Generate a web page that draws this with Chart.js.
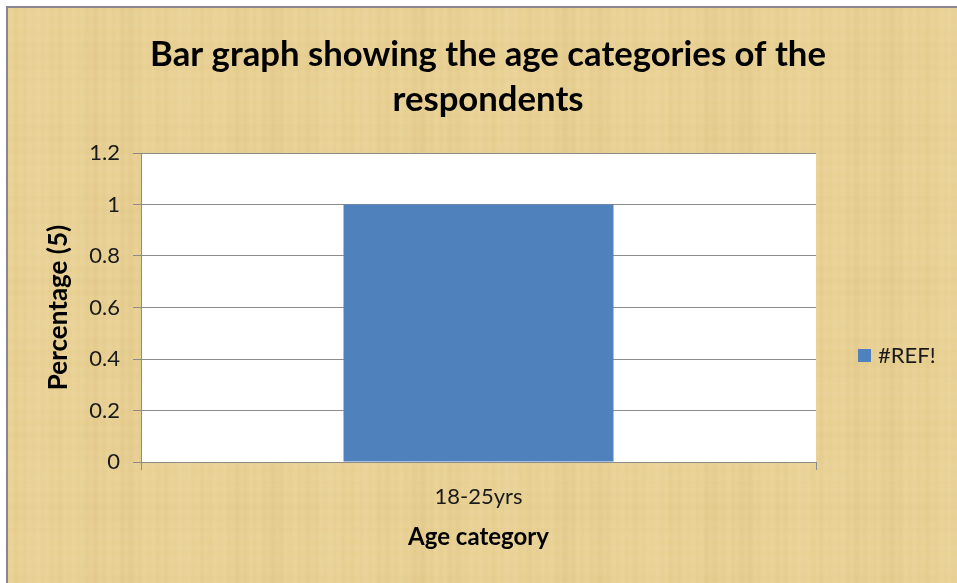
<!DOCTYPE html>
<html><head><meta charset="utf-8">
<script src="https://cdn.jsdelivr.net/npm/chart.js@4"></script>
<style>html,body{margin:0;padding:0;background:#fff;overflow:hidden}#wrap{width:957px;height:583px;position:relative}</style>
</head><body><div id="wrap"><canvas id="c" width="957" height="583"></canvas></div>
<script>
const categories = ["18-25yrs"];
const seriesName = "#REF!";
const values = [1];
const yTicks = [0, 0.2, 0.4, 0.6, 0.8, 1, 1.2];
const titleLines = ["Bar graph showing the age categories of the", "respondents"];
const xTitle = "Age category";
const yTitle = "Percentage (5)";

const FONT = "Lato, 'Open Sans', sans-serif";
const BAR = "#4F81BD";
const GRID = "#8c8c8c";

const backdrop = {
  id: 'backdrop',
  beforeDraw(chart) {
    const ctx = chart.ctx, W = chart.width, H = chart.height;
    ctx.save();
    ctx.fillStyle = '#ffffff';
    ctx.fillRect(0, 0, W, H);
    ctx.fillStyle = '#E9D195';
    ctx.fillRect(8, 8, W - 8, H - 8);
    // parchment fibres (deterministic pattern)
    for (let x = 8; x < W; x += 1) {
      const a = Math.sin(x * 0.71) * 0.35 + Math.sin(x * 0.173 + 1.3) * 0.35 + Math.sin(x * 0.041) * 0.3;
      ctx.fillStyle = a > 0 ? 'rgba(255,246,215,' + (a * 0.10).toFixed(3) + ')' : 'rgba(175,135,65,' + (-a * 0.08).toFixed(3) + ')';
      ctx.fillRect(x, 8, 1, H - 8);
    }
    for (let y = 8; y < H; y += 2) {
      const a = Math.sin(y * 0.53 + 0.7) * 0.5 + Math.sin(y * 0.083) * 0.4;
      ctx.fillStyle = a > 0 ? 'rgba(255,248,220,' + (a * 0.04).toFixed(3) + ')' : 'rgba(175,135,60,' + (-a * 0.035).toFixed(3) + ')';
      ctx.fillRect(8, y, W - 8, 2);
    }
    ctx.fillStyle = '#8a8590';
    ctx.fillRect(7, 6, W - 7, 2);
    ctx.fillRect(6, 6, 2, H - 6);
    const a = chart.chartArea;
    ctx.fillStyle = '#ffffff';
    ctx.fillRect(a.left, a.top, a.right - a.left, a.bottom - a.top);
    ctx.restore();
  },
  afterDraw(chart) {
    const ctx = chart.ctx;
    ctx.save();
    // title, sized to the reference's line width
    let size = 30;
    ctx.font = 'bold ' + size + 'px ' + FONT;
    const w = ctx.measureText(titleLines[0]).width;
    size = size * 676 / w;
    ctx.font = 'bold ' + size.toFixed(1) + 'px ' + FONT;
    ctx.fillStyle = '#000';
    ctx.textAlign = 'center';
    ctx.textBaseline = 'middle';
    ctx.fillText(titleLines[0], 488, 55);
    ctx.fillText(titleLines[1], 488, 100);
    // legend
    const ds = chart.data.datasets[0];
    ctx.fillStyle = ds.backgroundColor;
    ctx.fillRect(858, 349, 13, 13);
    ctx.fillStyle = '#1a1a1a';
    ctx.textAlign = 'left';
    ctx.font = '22px ' + FONT;
    ctx.fillText(ds.label, 878, 356);
    ctx.restore();
  }
};

new Chart(document.getElementById('c'), {
  type: 'bar',
  data: {
    labels: categories,
    datasets: [{ label: seriesName, data: values, backgroundColor: BAR, borderWidth: 0,
      barPercentage: 0.4, categoryPercentage: 1 }]
  },
  options: {
    responsive: false,
    animation: false,
    layout: { padding: { left: 8, top: 153, right: 141, bottom: 0 } },
    plugins: { legend: { display: false }, title: { display: false }, tooltip: { enabled: false } },
    scales: {
      x: {
        afterFit: s => { s.height = 121; },
        grid: { drawOnChartArea: false, drawTicks: true, tickLength: 8, color: GRID, offset: true },
        border: { display: true, color: GRID, width: 1 },
        ticks: { font: { family: FONT, size: 22 }, color: '#1a1a1a', padding: 14 },
        title: { display: true, text: xTitle, color: '#000', font: { family: FONT, size: 24, weight: 'bold' }, padding: { top: 0, bottom: 31 } }
      },
      y: {
        min: 0, max: 1.2,
        afterFit: s => { s.width = 133; },
        afterBuildTicks: s => { s.ticks = yTicks.map(v => ({ value: v })); },
        grid: { color: GRID, lineWidth: 1, tickLength: 8, drawTicks: true },
        border: { display: true, color: GRID, width: 1 },
        ticks: { font: { family: FONT, size: 22 }, color: '#1a1a1a', padding: 13,
          callback: v => String(v) },
        title: { display: true, text: yTitle, color: '#000', font: { family: FONT, size: 26, weight: 'bold' }, padding: { top: 35, bottom: 0 } }
      }
    }
  },
  plugins: [backdrop]
});
</script>
</body></html>
